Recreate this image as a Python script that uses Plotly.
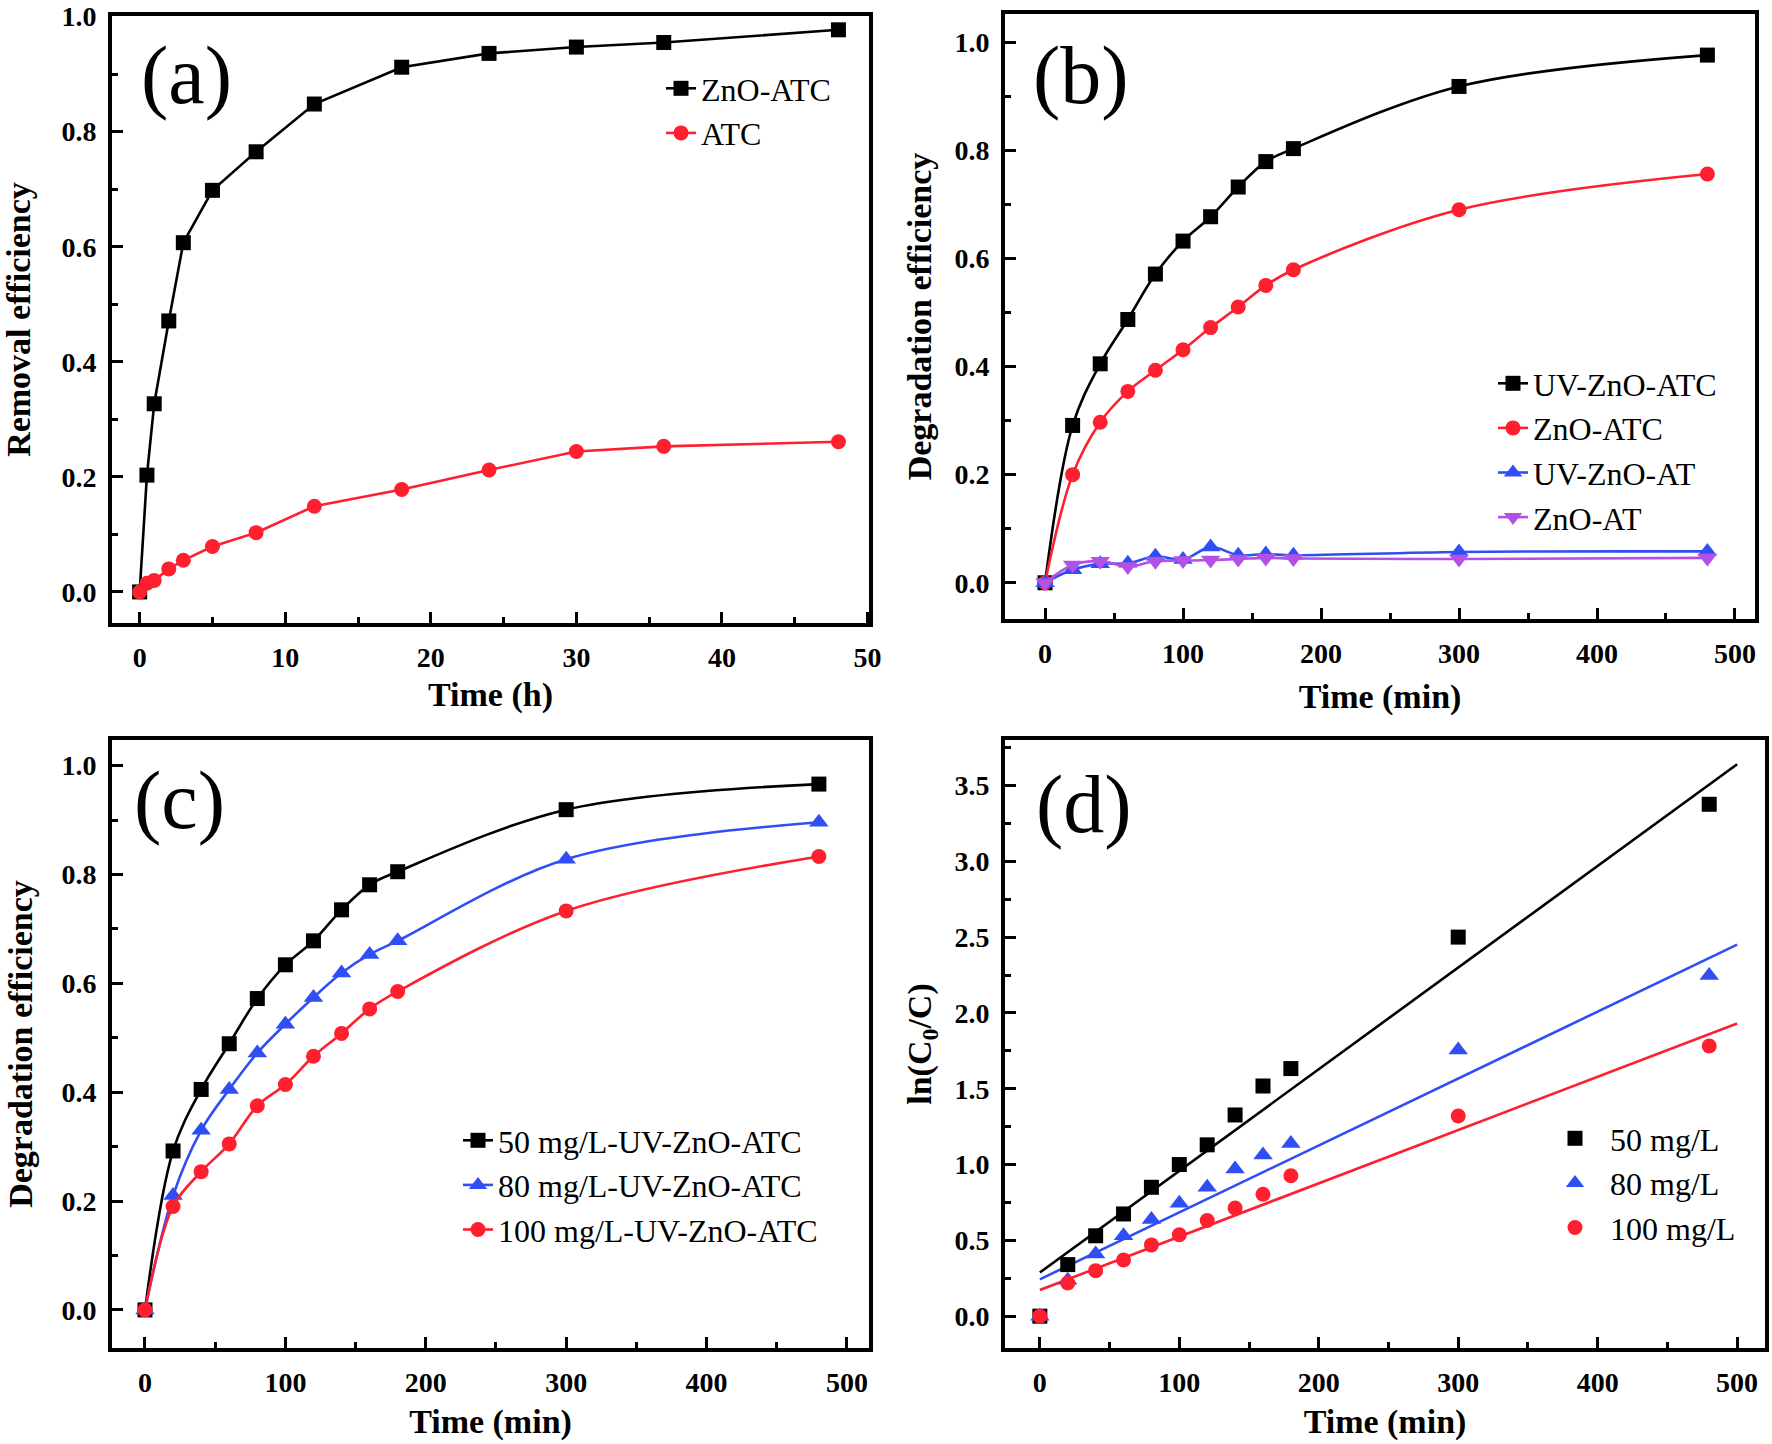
import plotly.graph_objects as go

# ---- data ----
t_h = [0, 0.5, 1, 2, 3, 5, 8, 12, 18, 24, 30, 36, 48]
a_zno_atc = [0, 0.203, 0.327, 0.471, 0.607, 0.698, 0.765, 0.848, 0.912, 0.936, 0.947, 0.955, 0.977]
a_atc = [0, 0.015, 0.020, 0.040, 0.055, 0.079, 0.103, 0.149, 0.178, 0.212, 0.244, 0.253, 0.261]

t_min = [0, 20, 40, 60, 80, 100, 120, 140, 160, 180, 300, 480]
b_uv_zno_atc = [0, 0.291, 0.405, 0.487, 0.571, 0.632, 0.677, 0.732, 0.779, 0.803, 0.918, 0.976]
b_zno_atc = [0, 0.200, 0.297, 0.354, 0.393, 0.431, 0.472, 0.510, 0.550, 0.579, 0.690, 0.756]
b_uv_zno_at = [0, 0.024, 0.035, 0.036, 0.049, 0.043, 0.066, 0.051, 0.053, 0.051, 0.057, 0.058]
b_zno_at = [0, 0.033, 0.040, 0.030, 0.040, 0.041, 0.042, 0.044, 0.046, 0.045, 0.044, 0.046]

c_50 = [0, 0.292, 0.405, 0.489, 0.572, 0.634, 0.678, 0.735, 0.781, 0.805, 0.919, 0.966]
c_80 = [0, 0.210, 0.330, 0.405, 0.472, 0.525, 0.574, 0.619, 0.653, 0.678, 0.828, 0.896]
c_100 = [0, 0.190, 0.254, 0.305, 0.375, 0.414, 0.466, 0.508, 0.553, 0.585, 0.733, 0.833]

d_50 = [0, 0.34, 0.53, 0.674, 0.85, 1.00, 1.13, 1.327, 1.518, 1.633, 2.50, 3.376]
d_80 = [0, 0.237, 0.41, 0.531, 0.638, 0.744, 0.85, 0.97, 1.063, 1.138, 1.755, 2.246]
d_100 = [0, 0.219, 0.30, 0.37, 0.47, 0.537, 0.631, 0.713, 0.804, 0.926, 1.32, 1.782]

# linear fits in (d), end points
fit_t = [0, 500]
fit_50 = [0.288, 3.64]
fit_80 = [0.243, 2.45]
fit_100 = [0.173, 1.93]

BLACK, RED, BLUE, VIOLET = '#000000', '#FF1F2F', '#2F4FF5', '#B450E6'
SERIF = 'Liberation Serif'

fig = go.Figure()

def add(x, y, name, color, symbol, xa, ya, legend, shape='linear', mode='lines+markers', show=True):
    size = 17 if symbol.startswith('triangle') else 15
    fig.add_trace(go.Scatter(
        x=x, y=y, name=name, mode=mode, xaxis=xa, yaxis=ya, legend=legend,
        showlegend=show, line=dict(color=color, width=2.6, shape=shape),
        marker=dict(symbol=symbol, size=size, color=color)))

# (a)
add(t_h, a_zno_atc, 'ZnO-ATC', BLACK, 'square', 'x', 'y', 'legend')
add(t_h, a_atc, 'ATC', RED, 'circle', 'x', 'y', 'legend')
# (b)
add(t_min, b_uv_zno_atc, 'UV-ZnO-ATC', BLACK, 'square', 'x2', 'y2', 'legend2', 'spline')
add(t_min, b_zno_atc, 'ZnO-ATC', RED, 'circle', 'x2', 'y2', 'legend2', 'spline')
add(t_min, b_uv_zno_at, 'UV-ZnO-AT', BLUE, 'triangle-up', 'x2', 'y2', 'legend2', 'spline')
add(t_min, b_zno_at, 'ZnO-AT', VIOLET, 'triangle-down', 'x2', 'y2', 'legend2', 'spline')
# (c)
add(t_min, c_50, '50 mg/L-UV-ZnO-ATC', BLACK, 'square', 'x3', 'y3', 'legend3', 'spline')
add(t_min, c_80, '80 mg/L-UV-ZnO-ATC', BLUE, 'triangle-up', 'x3', 'y3', 'legend3', 'spline')
add(t_min, c_100, '100 mg/L-UV-ZnO-ATC', RED, 'circle', 'x3', 'y3', 'legend3', 'spline')
# (d)
add(fit_t, fit_50, 'fit 50', BLACK, 'square', 'x4', 'y4', 'legend4', mode='lines', show=False)
add(fit_t, fit_80, 'fit 80', BLUE, 'square', 'x4', 'y4', 'legend4', mode='lines', show=False)
add(fit_t, fit_100, 'fit 100', RED, 'square', 'x4', 'y4', 'legend4', mode='lines', show=False)
add(t_min, d_50, '50 mg/L', BLACK, 'square', 'x4', 'y4', 'legend4', mode='markers')
add(t_min, d_80, '80 mg/L', BLUE, 'triangle-up', 'x4', 'y4', 'legend4', mode='markers')
add(t_min, d_100, '100 mg/L', RED, 'circle', 'x4', 'y4', 'legend4', mode='markers')

W, H = 1772, 1444

def ax(domain, rng, dtick, minor, title, standoff, fmt=None, anchor=None):
    d = dict(domain=domain, range=rng, dtick=dtick, tick0=0, anchor=anchor, automargin=False,
             showline=True, linewidth=4, linecolor='black', mirror=True,
             ticks='inside', ticklen=11, tickwidth=3, tickcolor='black',
             minor=dict(dtick=minor, ticks='inside', ticklen=6, tickwidth=3, tickcolor='black'),
             showgrid=False, zeroline=False, ticklabelstandoff=6,
             tickfont=dict(family=SERIF, size=28, color='black', weight='bold'),
             title=dict(text=title, standoff=standoff,
                        font=dict(family=SERIF, size=34, color='black', weight='bold')))
    if fmt:
        d['tickformat'] = fmt
    return d

xa = [112 / W, 869 / W]
xb = [1005 / W, 1755 / W]
xd = [1005 / W, 1765 / W]
ya = [1 - 623 / H, 1 - 16 / H]
yb = [1 - 619 / H, 1 - 14 / H]
yc = [1 - 1348 / H, 1 - 740 / H]

fig.update_layout(
    width=W, height=H, margin=dict(l=0, r=0, t=0, b=0),
    paper_bgcolor='white', plot_bgcolor='white',
    xaxis=ax(xa, [-1.9, 50.1], 10, 5, 'Time (h)', 12, anchor='y'),
    yaxis=ax(ya, [-0.054, 1.001], 0.2, 0.1, 'Removal efficiency', 22, '.1f', anchor='x'),
    xaxis2=ax(xb, [-29, 514.5], 100, 50, 'Time (min)', 18, anchor='y2'),
    yaxis2=ax(yb, [-0.067, 1.052], 0.2, 0.1, 'Degradation efficiency', 14, '.1f', anchor='x2'),
    xaxis3=ax(xa, [-23.5, 515.7], 100, 50, 'Time (min)', 14, anchor='y3'),
    yaxis3=ax(yc, [-0.07, 1.047], 0.2, 0.1, 'Degradation efficiency', 20, '.1f', anchor='x3'),
    xaxis4=ax(xd, [-25, 520], 100, 50, 'Time (min)', 14, anchor='y4'),
    yaxis4=ax(yc, [-0.21, 3.80], 0.5, 0.25, 'ln(C<sub>0</sub>/C)', 14, '.1f', anchor='x4'),
    showlegend=True,
)

leg_font = dict(family=SERIF, size=32, color='black')
fig.update_layout(
    legend=dict(x=661 / W, y=1 - 61 / H, xanchor='left', yanchor='top', font=leg_font,
                bgcolor='rgba(0,0,0,0)', tracegroupgap=0),
    legend2=dict(x=1493 / W, y=1 - 356 / H, xanchor='left', yanchor='top', font=leg_font,
                 bgcolor='rgba(0,0,0,0)'),
    legend3=dict(x=458 / W, y=1 - 1113 / H, xanchor='left', yanchor='top', font=leg_font,
                 bgcolor='rgba(0,0,0,0)'),
    legend4=dict(x=1540 / W, y=1 - 1111 / H, xanchor='left', yanchor='top', font=leg_font,
                 bgcolor='rgba(0,0,0,0)', itemwidth=60),
)

panel_font = dict(family=SERIF, size=82, color='black')
for txt, px, py in [('(a)', 186, 76), ('(b)', 1081, 76), ('(c)', 179, 800), ('(d)', 1084, 804)]:
    fig.add_annotation(text=txt, x=px / W, y=1 - py / H, xref='paper', yref='paper',
                       xanchor='center', yanchor='middle', showarrow=False, font=panel_font)

# drop the default 8px page margin so the figure sits at the window corner
fig.write_html('out.html', config={'displayModeBar': False},
               post_script='document.body.style.margin = "0";')
